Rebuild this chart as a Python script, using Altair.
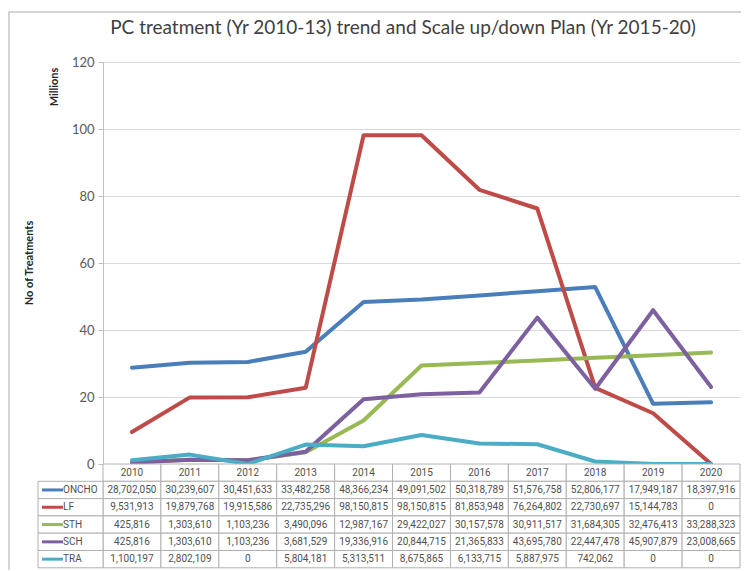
import altair as alt
import pandas as pd

title_text = "PC treatment (Yr 2010-13) trend and Scale up/down Plan (Yr 2015-20)"
years = ["2010", "2011", "2012", "2013", "2014", "2015", "2016", "2017", "2018", "2019", "2020"]
series = ["ONCHO", "LF", "STH", "SCH", "TRA"]
oncho = [28702050, 30239607, 30451633, 33482258, 48366234, 49091502, 50318789, 51576758, 52806177, 17949187, 18397916]
lf = [9531913, 19879768, 19915586, 22735296, 98150815, 98150815, 81853948, 76264802, 22730697, 15144783, 0]
sth = [425816, 1303610, 1103236, 3490096, 12987167, 29422027, 30157578, 30911517, 31684305, 32476413, 33288323]
sch = [425816, 1303610, 1103236, 3681529, 19336916, 20844715, 21365833, 43695780, 22447478, 45907879, 23008665]
tra = [1100197, 2802109, 0, 5804181, 5313511, 8675865, 6133715, 5887975, 742062, 0, 0]
colors = ["#4a7ebb", "#be4b48", "#98b954", "#7d60a0", "#4bacc6"]

values = [oncho, lf, sth, sch, tra]
rows = []
for s, vals in zip(series, values):
    for y, v in zip(years, vals):
        rows.append({"year": y, "series": s, "row": s, "value": v,
                     "value_m": v / 1e6, "label": f"{v:,}"})
df = pd.DataFrame(rows)
hdr = pd.DataFrame({"year": years, "row": ["hdr"] * len(years), "label": years})
cells = pd.concat([hdr, df[["year", "row", "label"]]], ignore_index=True)
leg = pd.DataFrame({"row": series})

W, H = 637, 402
RH = 17.3
FONT = "Lato"
TFONT = "Roboto"

X = alt.X("year:O", scale=alt.Scale(type="band", domain=years, paddingInner=0, paddingOuter=0), axis=None)
Y = alt.Y("value_m:Q", scale=alt.Scale(domain=[0, 120], nice=False),
          axis=alt.Axis(values=[0, 20, 40, 60, 80, 100, 120], grid=True, gridColor="#d9d9d9",
                        domainColor="#bfbfbf", tickColor="#bfbfbf", tickSize=5, labelPadding=4,
                        labelFontSize=13, labelColor="#595959", labelFont=FONT, title=None))

line_layers = []
for s, c in zip(series, colors):
    line_layers.append(
        alt.Chart(df).transform_filter(alt.datum.series == s)
        .mark_line(color=c, strokeWidth=4, strokeJoin="round", strokeCap="round")
        .encode(x=X, y=Y)
    )
lines = alt.layer(*line_layers)

row_dom = ["hdr"] + series
Yr = alt.Y("row:N", scale=alt.Scale(type="band", domain=row_dom, range=[H, H + RH * len(row_dom)],
                                    paddingInner=0, paddingOuter=0), axis=None)

cell_rect = alt.Chart(cells).mark_rect(fill="white", stroke="#b0b0b0", strokeWidth=1).encode(x=X, y=Yr)
cell_text = alt.Chart(cells).mark_text(font=TFONT, fontSize=10, color="#505050").encode(x=X, y=Yr, text="label:N")
leg_rect = alt.Chart(leg).mark_rect(fill="white", stroke="#b0b0b0", strokeWidth=1).encode(
    x=alt.value(-65), x2=alt.value(0), y=Yr)
leg_rule = alt.Chart(leg).mark_rule(strokeWidth=3).encode(
    x=alt.value(-61), x2=alt.value(-40), y=Yr,
    color=alt.Color("row:N", scale=alt.Scale(domain=series, range=colors), legend=None))
leg_text = alt.Chart(leg).mark_text(font=TFONT, fontSize=10, color="#505050", align="left").encode(
    x=alt.value(-40), y=Yr, text="row:N")
table = alt.layer(cell_rect, cell_text, leg_rect, leg_rule, leg_text)

one = pd.DataFrame({"t": [title_text]})
frame = alt.Chart(one).mark_rect(fillOpacity=0, stroke="#c8c8c8", strokeWidth=1.5).encode(
    x=alt.value(-94), x2=alt.value(800), y=alt.value(-50), y2=alt.value(700))
title = alt.Chart(one).mark_text(font=FONT, fontSize=19, color="#404040", baseline="middle", align="center").encode(
    x=alt.value(300), y=alt.value(-34), text="t:N")
millions = alt.Chart(pd.DataFrame({"t": ["Millions"]})).mark_text(
    font=FONT, fontSize=11, fontWeight="bold", color="#262626", angle=270, baseline="middle").encode(
    x=alt.value(-48), y=alt.value(25), text="t:N")
ytitle = alt.Chart(pd.DataFrame({"t": ["No of Treatments"]})).mark_text(
    font=FONT, fontSize=11, fontWeight="bold", color="#262626", angle=270, baseline="middle").encode(
    x=alt.value(-73), y=alt.value(201), text="t:N")

chart = alt.layer(frame, lines, table, title, millions, ytitle).resolve_scale(y="independent").properties(
    width=W, height=H, autosize="none",
    padding={"left": 95, "top": 54, "right": 1, "bottom": 106},
).configure_view(strokeWidth=0)

chart.save("out.html", embed_options={"renderer": "svg", "actions": False})
